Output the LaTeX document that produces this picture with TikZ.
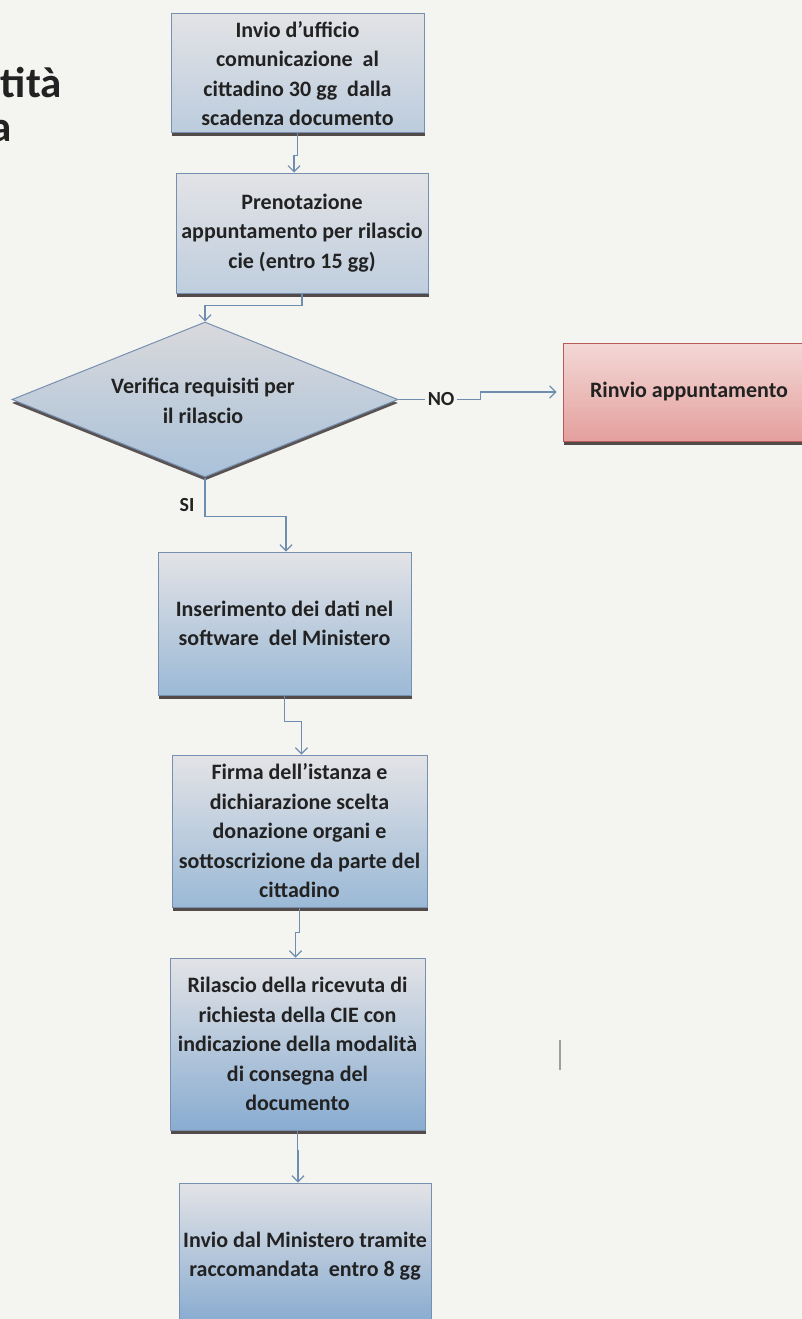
\documentclass[tikz,border=0pt]{standalone}
\usepackage{fontspec}
\setmainfont{Carlito}
\usetikzlibrary{shapes.geometric,arrows.meta,shadows,calc}
\definecolor{bg}{HTML}{F4F4F1}
\definecolor{txt}{HTML}{222222}
\definecolor{bord}{HTML}{7890B0}
\definecolor{conncol}{HTML}{6F8DAF}
\definecolor{shadowcol}{HTML}{4A4242}
\definecolor{gtop}{HTML}{E3E3E6}
\definecolor{gbot}{HTML}{9BB9D6}
\definecolor{gbotdeep}{HTML}{84A9CF}
\definecolor{ptop}{HTML}{F3D8D6}
\definecolor{pbot}{HTML}{E4A09D}
\definecolor{pbord}{HTML}{B85A58}
\tikzset{
  boxtext/.style={font=\bfseries\fontsize{22}{29.5}\selectfont, text=txt, align=center},
  flowbox/.style={rectangle, draw=bord, line width=1pt, inner sep=0pt, boxtext,
    top color=gtop, bottom color=gbot,
    drop shadow={shadow xshift=0.8pt, shadow yshift=-3.5pt, fill=shadowcol, opacity=0.95}},
  pinkbox/.style={flowbox, draw=pbord, top color=ptop, bottom color=pbot},
  decision/.style={diamond, draw=bord, line width=1pt, inner sep=0pt,
    top color=gtop!90!gray, bottom color=gbot!80!gtop,
    drop shadow={shadow xshift=0pt, shadow yshift=-3.5pt, fill=shadowcol, opacity=0.9}},
  conn/.style={draw=conncol, line width=1.2pt,
    -{Straight Barb[length=6pt,width=12pt,line width=1.2pt]}},
  condlabel/.style={font=\bfseries\fontsize{20}{24}\selectfont, text=txt},
  titletext/.style={font=\bfseries\fontsize{43}{50}\selectfont, text=txt}
}
\begin{document}
\begin{tikzpicture}[x=1pt,y=-1pt]
\useasboundingbox (0,0) rectangle (802,1319);
\clip (0,0) rectangle (802,1319);
\fill[bg] (0,0) rectangle (802,1319);

% partial title at left edge
\node[titletext, anchor=base east, inner sep=0pt] (t1) at (62,98) {tità};
\node[titletext, anchor=base east, inner sep=0pt] (t2) at (12,142) {a};

% boxes
\node[flowbox, minimum width=253pt, minimum height=119pt, bottom color=gbot!55!gtop] (b1) at (297.5,73.5)
  {Invio d'ufficio\\comunicazione~~al\\cittadino 30 gg~~dalla\\scadenza documento};
\node[flowbox, minimum width=252pt, minimum height=120pt, bottom color=gbot!50!gtop] (b2) at (302,233)
  {Prenotazione\\appuntamento per rilascio\\cie (entro 15 gg)};
\node[decision, minimum width=386pt, minimum height=155pt] (d) at (205,399.5) {};
\node[boxtext] (dt) at (203,401) {Verifica requisiti per\\il rilascio};
\node[pinkbox, minimum width=252pt, minimum height=98pt] (r) at (689,392) {Rinvio appuntamento};
\node[flowbox, minimum width=253pt, minimum height=143pt] (b3) at (284.5,623.5)
  {Inserimento dei dati nel\\software~~del Ministero};
\node[flowbox, minimum width=255pt, minimum height=152pt] (b4) at (299.5,831)
  {Firma dell'istanza e\\dichiarazione scelta\\donazione organi e\\sottoscrizione da parte del\\cittadino};
\node[flowbox, minimum width=255pt, minimum height=172pt, bottom color=gbotdeep!80!gbot] (b5) at (297.5,1044)
  {Rilascio della ricevuta di\\richiesta della CIE con\\indicazione della modalità\\di consegna del\\documento};
\node[flowbox, minimum width=252pt, minimum height=146pt, bottom color=gbotdeep] (b6) at (305,1256)
  {Invio dal Ministero tramite\\raccomandata~~entro 8 gg};

% connectors
\draw[conn] (b1.south) -- ++(0,22) -| ([xshift=-8pt]b2.north);
\draw[conn] (b2.south) -- ++(0,12) -| (d.north);
\draw[conn] (d.east) -- ++(82,0)
  node[pos=0.52, fill=bg, inner xsep=3pt, inner ysep=1pt, condlabel] (no) {NO}
  |- ([xshift=-6pt]r.west);
\draw[conn] (d.south) -- ++(0,39) -| ([xshift=1.5pt]b3.north);
\node[condlabel] (si) at (187,505) {SI};
\draw[conn] (b3.south) -- ++(0,26) -| ([xshift=2pt]b4.north);
\draw[conn] (b4.south) -- ++(0,25) -| ([xshift=-2pt]b5.north);
\draw[conn] (b5.south) -- ++(0,20) -| ([xshift=-7pt]b6.north);

% stray mark
\draw[gray!75, line width=1.5pt] (560,1040) -- (560,1070);
\end{tikzpicture}
\end{document}
